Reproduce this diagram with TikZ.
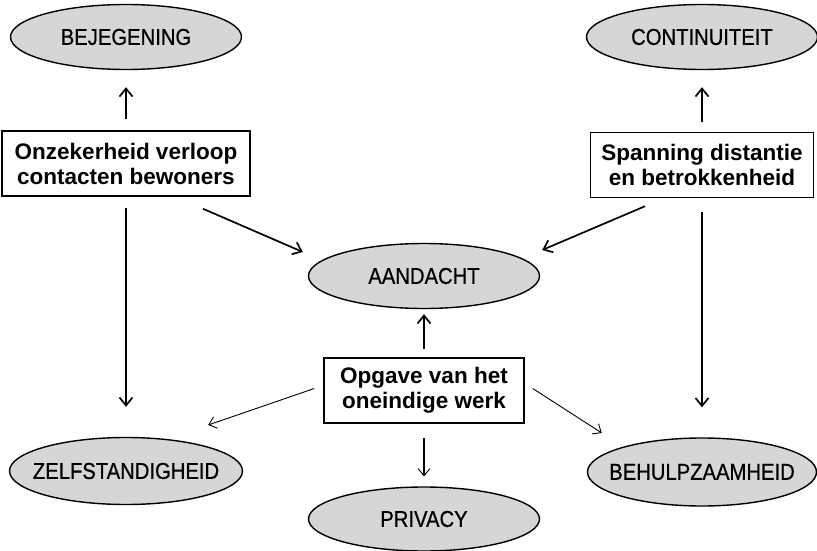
\documentclass[tikz,border=0pt]{standalone}
\usepackage{fontspec}
\setmainfont{Liberation Sans}
\newfontfamily\ellfont[FakeStretch=0.88,FakeBold=0.6]{Liberation Sans}
\usetikzlibrary{shapes.geometric,arrows.meta,calc}
\newcommand{\ovaltext}[1]{\makebox[0pt][c]{#1}}
\tikzset{
  oval/.style={ellipse, draw=black, line width=1.4pt, fill=black!16,
    minimum width=231pt, minimum height=65pt, inner sep=0pt,
    font=\ellfont\fontsize{23}{25}\selectfont},
  cbox/.style={rectangle, draw=black, line width=1.5pt, fill=white,
    minimum height=65pt, inner sep=0pt, align=center,
    font=\bfseries\fontsize{22.5}{25}\selectfont},
  thick arr/.style={line width=1.7pt, -{Straight Barb[length=8pt,width=13pt,line width=1.7pt]}},
  thin arr/.style={line width=0.9pt, -{Straight Barb[length=7pt,width=12pt,line width=0.9pt]}},
}
\begin{document}
\begin{tikzpicture}[x=1pt,y=-1pt]
\useasboundingbox (0,0) rectangle (817,551);
\fill[white] (0,0) rectangle (817,551);
% ellipses
\node[oval] (bej) at (126,37) {\ovaltext{BEJEGENING}};
\node[oval] (con) at (702,37) {\ovaltext{CONTINUITEIT}};
\node[oval] (aan) at (424,276) {\ovaltext{AANDACHT}};
\node[oval, minimum width=233pt, minimum height=67pt] (zel) at (126,471) {\ovaltext{ZELFSTANDIGHEID}};
\node[oval, minimum height=64pt] (pri) at (424,519) {\ovaltext{PRIVACY}};
\node[oval, minimum width=229pt, minimum height=68pt] (beh) at (702,472) {\ovaltext{BEHULPZAAMHEID}};
% boxes
\node[cbox, minimum width=248pt] (lb) at (126,163.5) {Onzekerheid verloop\\contacten bewoners};
\node[cbox, minimum width=223pt] (rb) at (702,165) {Spanning distantie\\en betrokkenheid};
\node[cbox, minimum width=200pt] (op) at (424,390.5) {Opgave van het\\oneindige werk};
% arrows
\draw[thick arr, shorten <=11pt, shorten >=17pt] (lb.north) -- (bej.south);
\draw[thick arr, shorten <=10pt, shorten >=17pt] (rb.north) -- (con.south);
\draw[thick arr, shorten <=11pt, shorten >=30pt] (lb.south) -- (zel.north);
\draw[thick arr, shorten <=14pt, shorten >=30pt] (rb.south) -- (beh.north);
\draw[thick arr] ($(lb.south)+(77,12)$) -- ($(aan.west)+(-5,-24)$);
\draw[thick arr] ($(rb.south)+(-57,8)$) -- ($(aan.east)+(2,-26)$);
\draw[thick arr, shorten <=8pt, shorten >=5pt] (op.north) -- (aan.south);
\draw[thin arr, line width=1.2pt, shorten <=14pt, shorten >=10pt] (op.south) -- (pri.north);
\draw[thin arr] ($(op.west)+(-9,-2)$) -- ($(zel.east)+(-35,-46)$);
\draw[thin arr] ($(op.east)+(8,-2)$) -- ($(beh.west)+(15,-39)$);
\end{tikzpicture}
\end{document}
